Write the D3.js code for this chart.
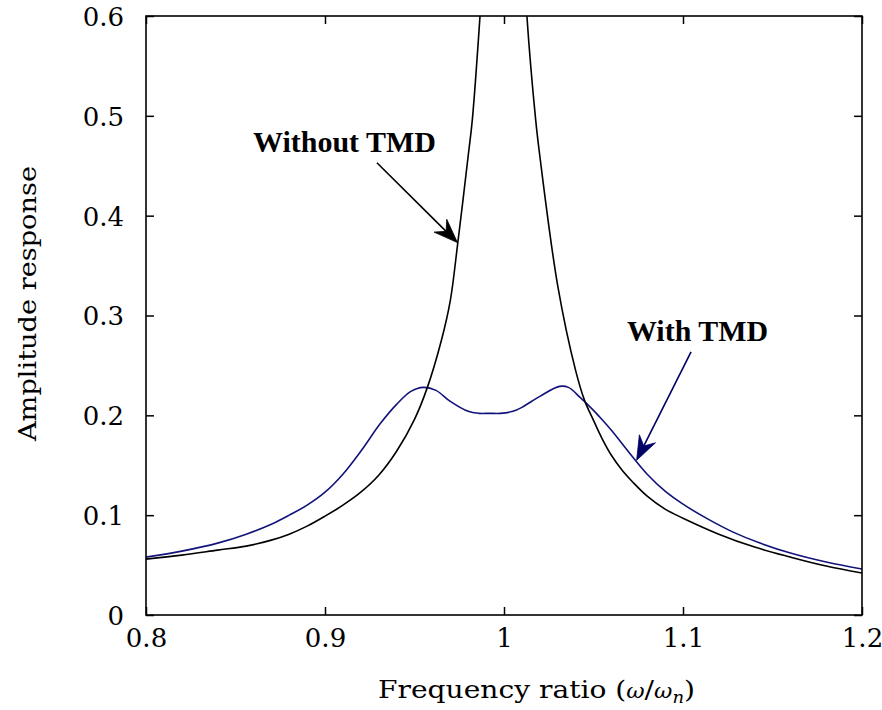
<!DOCTYPE html>
<html>
<head>
<meta charset="utf-8">
<script src="https://cdn.jsdelivr.net/npm/d3@7"></script>
<style>
  html, body { margin: 0; padding: 0; background: #fff; }
  svg { display: block; }
  text { font-family: "DejaVu Serif", "Liberation Serif", serif; fill: #000; }
</style>
</head>
<body>
<svg id="chart" width="882" height="710"></svg>
<script>
// Frequency ratio (ω/ωn) and amplitude response of the structure
const withoutTMD = [
  [0.800, 0.056], [0.820, 0.060], [0.840, 0.065], [0.856, 0.069], [0.870, 0.075],
  [0.880, 0.081], [0.890, 0.089], [0.900, 0.099], [0.910, 0.110], [0.920, 0.123],
  [0.930, 0.140], [0.940, 0.164], [0.950, 0.196], [0.957, 0.227], [0.965, 0.275],
  [0.970, 0.315], [0.974, 0.370], [0.980, 0.460], [0.9823, 0.496], [0.9866, 0.600],
  [0.990, 0.700], [1.000, 0.950], [1.010, 0.700], [1.0128, 0.600], [1.0177, 0.496],
  [1.020, 0.460], [1.030, 0.330], [1.040, 0.245], [1.045, 0.215], [1.050, 0.195],
  [1.055, 0.176], [1.060, 0.160], [1.066, 0.145], [1.072, 0.133], [1.080, 0.119],
  [1.090, 0.106], [1.100, 0.097], [1.120, 0.081], [1.140, 0.068], [1.160, 0.058],
  [1.180, 0.049], [1.200, 0.042]
];

const withTMD = [
  [0.800, 0.058], [0.820, 0.064], [0.840, 0.072], [0.856, 0.081], [0.870, 0.091],
  [0.880, 0.100], [0.890, 0.110], [0.900, 0.123], [0.910, 0.141], [0.920, 0.164],
  [0.931, 0.192], [0.940, 0.211], [0.948, 0.224], [0.955, 0.228], [0.962, 0.225],
  [0.970, 0.214], [0.980, 0.204], [0.986, 0.202], [0.992, 0.202], [0.998, 0.202],
  [1.005, 0.204], [1.010, 0.208], [1.020, 0.219], [1.031, 0.229], [1.036, 0.228],
  [1.0425, 0.218], [1.050, 0.205], [1.0536, 0.198], [1.060, 0.185], [1.072, 0.158],
  [1.080, 0.141], [1.090, 0.124], [1.100, 0.111], [1.114, 0.096], [1.128, 0.083],
  [1.143, 0.072], [1.160, 0.062], [1.180, 0.053], [1.200, 0.046]
];

const xTicks = [0.8, 0.9, 1.0, 1.1, 1.2];
const xTickLabels = ["0.8", "0.9", "1", "1.1", "1.2"];
const yTicks = [0, 0.1, 0.2, 0.3, 0.4, 0.5, 0.6];
const yTickLabels = ["0", "0.1", "0.2", "0.3", "0.4", "0.5", "0.6"];

// Labelled arrows: text anchor, arrow tail and arrow tip, in data units
const annotations = [
  { label: "Without TMD", text: [0.9109, 0.464], from: [0.929, 0.453], to: [0.974, 0.373], color: "#000000", width: 183 },
  { label: "With TMD",    text: [1.1081, 0.2745], from: [1.1045, 0.2635], to: [1.0741, 0.155], color: "#000066", width: 141 }
];

const SERIF = "'DejaVu Serif', 'Liberation Serif', serif";
const TIMES = "'Liberation Serif', 'Times New Roman', 'DejaVu Serif', serif";

const margin = { top: 16, right: 20, bottom: 95, left: 146 };
const W = 882, H = 710;
const iw = W - margin.left - margin.right;
const ih = H - margin.top - margin.bottom;

const svg = d3.select("#chart");
const g = svg.append("g").attr("transform", `translate(${margin.left},${margin.top})`);

const x = d3.scaleLinear().domain([0.8, 1.2]).range([0, iw]);
const y = d3.scaleLinear().domain([0, 0.6]).range([ih, 0]);

svg.append("defs").append("clipPath").attr("id", "plotClip")
  .append("rect").attr("width", iw).attr("height", ih);

// Inward ticks on all four sides
const tickLen = 8;
const axBottom = d3.axisBottom(x).tickValues(xTicks).tickSizeInner(-tickLen).tickSizeOuter(0)
  .tickFormat((d, i) => xTickLabels[i]).tickPadding(14);
const axTop = d3.axisTop(x).tickValues(xTicks).tickSizeInner(-tickLen).tickSizeOuter(0).tickFormat("");
const axLeft = d3.axisLeft(y).tickValues(yTicks).tickSizeInner(-tickLen).tickSizeOuter(0)
  .tickFormat((d, i) => yTickLabels[i]).tickPadding(22);
const axRight = d3.axisRight(y).tickValues(yTicks).tickSizeInner(-tickLen).tickSizeOuter(0).tickFormat("");

function styleAxis(sel) {
  sel.attr("font-family", null).attr("font-size", null);
  sel.select(".domain").remove();
  sel.selectAll(".tick line").attr("stroke", "#000").attr("stroke-width", 1.5);
  sel.selectAll(".tick text").style("font-family", SERIF)
    .style("font-size", "26px").attr("fill", "#000");
}

g.append("g").attr("transform", `translate(0,${ih})`).call(axBottom).call(styleAxis);
g.append("g").call(axTop).call(styleAxis);
g.append("g").call(axLeft).call(styleAxis)
  .selectAll(".tick text").attr("dy", "0.36em");
g.append("g").attr("transform", `translate(${iw},0)`).call(axRight).call(styleAxis);

// Curves
const line = d3.line().x(d => x(d[0])).y(d => y(d[1])).curve(d3.curveCatmullRom.alpha(0.5));
const curves = g.append("g").attr("clip-path", "url(#plotClip)");
curves.append("path").datum(withTMD)
  .attr("d", line).attr("fill", "none").attr("stroke", "#12127a").attr("stroke-width", 1.6);
curves.append("path").datum(withoutTMD)
  .attr("d", line).attr("fill", "none").attr("stroke", "#000").attr("stroke-width", 1.6);

// Frame
g.append("rect").attr("width", iw).attr("height", ih)
  .attr("fill", "none").attr("stroke", "#000").attr("stroke-width", 1.6);

// Annotations with notched arrowheads
annotations.forEach(a => {
  const x0 = x(a.from[0]), y0 = y(a.from[1]);
  const x1 = x(a.to[0]), y1 = y(a.to[1]);
  const len = Math.hypot(x1 - x0, y1 - y0);
  const ux = (x1 - x0) / len, uy = (y1 - y0) / len;
  const nx = -uy, ny = ux;
  const L = 24, Wd = 9, notch = 8;
  const bx = x1 - L * ux, by = y1 - L * uy;
  const mx = x1 - (L - notch) * ux, my = y1 - (L - notch) * uy;
  g.append("line")
    .attr("x1", x0).attr("y1", y0).attr("x2", mx).attr("y2", my)
    .attr("stroke", a.color).attr("stroke-width", 1.6);
  g.append("path")
    .attr("d", `M${x1},${y1}L${bx + Wd * nx},${by + Wd * ny}L${mx},${my}L${bx - Wd * nx},${by - Wd * ny}Z`)
    .attr("fill", a.color).attr("stroke", a.color).attr("stroke-width", 0.8).attr("stroke-linejoin", "miter");
  g.append("text")
    .attr("x", x(a.text[0])).attr("y", y(a.text[1]))
    .attr("text-anchor", "middle")
    .style("font-family", TIMES)
    .style("font-size", "30px").style("font-weight", "bold")
    .attr("fill", a.color)
    .attr("textLength", a.width).attr("lengthAdjust", "spacingAndGlyphs")
    .text(a.label);
});

// Axis titles
svg.append("text")
  .attr("transform", `translate(36,${margin.top + ih / 2 - 12}) rotate(-90)`)
  .attr("text-anchor", "middle")
  .style("font-family", SERIF)
  .style("font-size", "25px")
  .attr("textLength", 275).attr("lengthAdjust", "spacingAndGlyphs")
  .text("Amplitude response");

const xt = svg.append("text")
  .attr("x", 378).attr("y", 698)
  .style("font-family", SERIF)
  .style("font-size", "25px")
  .attr("textLength", 317).attr("lengthAdjust", "spacingAndGlyphs");
xt.append("tspan").text("Frequency ratio (");
xt.append("tspan").style("font-style", "italic").style("font-size", "20px").text("ω");
xt.append("tspan").text("/");
xt.append("tspan").style("font-style", "italic").style("font-size", "20px").text("ω");
xt.append("tspan").style("font-style", "italic").style("font-size", "16px").attr("dy", 5).text("n");
xt.append("tspan").attr("dy", -5).text(")");
</script>
</body>
</html>
